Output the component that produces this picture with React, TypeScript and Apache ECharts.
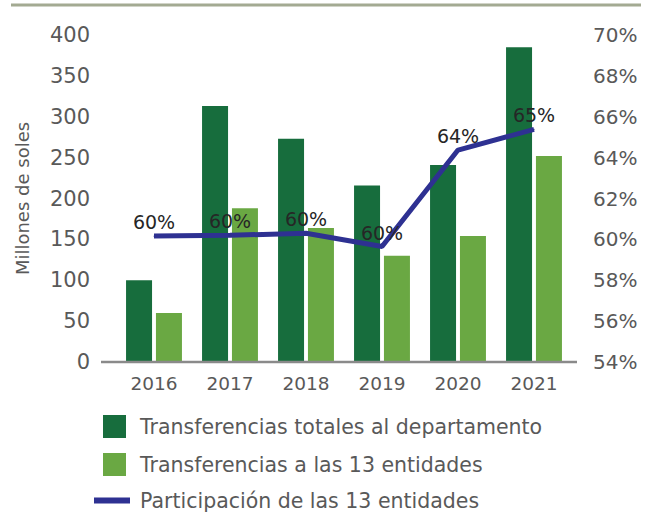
import React, { useEffect, useRef } from "react";
import * as echarts from "echarts";

const years = ["2016", "2017", "2018", "2019", "2020", "2021"];
const totalDepartamento = [100, 313, 273, 216, 241, 385];
const trece = [60, 188, 164, 130, 154, 252];
const participacion = [60.16, 60.2, 60.3, 59.65, 64.37, 65.38];
const leftTicks = [0, 400, 50];
const rightTicks = [54, 70, 2];

const names = [
  "Transferencias totales al departamento",
  "Transferencias a las 13 entidades",
  "Participación de las 13 entidades",
];

const FONT = "'DejaVu Sans', 'Noto Sans', sans-serif";
const GRAY = "#595959";

export default function App() {
  const ref = useRef<HTMLDivElement>(null);
  useEffect(() => {
    if (!ref.current) return;
    const chart = echarts.init(ref.current, null, { renderer: "svg" });
    chart.setOption({
      animation: false,
      textStyle: { fontFamily: FONT },
      grid: { left: 116, right: 81, top: 35, bottom: 154 },
      graphic: [
        {
          type: "line",
          shape: { x1: 11, y1: 5, x2: 641, y2: 5 },
          style: { stroke: "#a3aa92", lineWidth: 3 },
        },
        {
          type: "line",
          shape: { x1: 101, y1: 362, x2: 577, y2: 362 },
          style: { stroke: "#8a8a8a", lineWidth: 2.5 },
          z: 10,
        },
      ],
      legend: [
        {
          orient: "vertical",
          left: 103,
          top: 415,
          padding: 0,
          itemWidth: 23,
          itemHeight: 23,
          itemGap: 15,
          icon: "rect",
          data: [names[0], names[1]],
          textStyle: { fontSize: 20.5, color: GRAY, fontFamily: FONT, padding: [0, 0, 0, 9] },
        },
        {
          orient: "vertical",
          left: 94,
          top: 490,
          padding: 0,
          itemWidth: 36,
          itemHeight: 6,
          icon: "rect",
          data: [names[2]],
          textStyle: { fontSize: 20.5, color: GRAY, fontFamily: FONT, padding: [0, 0, 0, 5] },
        },
      ],
      xAxis: {
        type: "category",
        data: years,
        axisLine: { show: false },
        axisTick: { show: false },
        axisLabel: { color: GRAY, fontSize: 18.5, margin: 12, fontFamily: FONT },
      },
      yAxis: [
        {
          type: "value",
          min: leftTicks[0],
          max: leftTicks[1],
          interval: leftTicks[2],
          name: "Millones de soles",
          nameLocation: "middle",
          nameGap: 85,
          nameRotate: 90,
          nameTextStyle: { color: GRAY, fontSize: 18, fontFamily: FONT },
          axisLine: { show: false },
          axisTick: { show: false },
          splitLine: { show: false },
          axisLabel: { color: GRAY, fontSize: 21, margin: 26, fontFamily: FONT },
        },
        {
          type: "value",
          min: rightTicks[0],
          max: rightTicks[1],
          interval: rightTicks[2],
          position: "right",
          axisLine: { show: false },
          axisTick: { show: false },
          splitLine: { show: false },
          axisLabel: {
            color: GRAY,
            fontSize: 20,
            margin: 21,
            fontFamily: FONT,
            formatter: (v: number) => v + "%",
          },
        },
      ],
      series: [
        {
          name: names[0],
          type: "bar",
          data: totalDepartamento,
          barWidth: 26,
          barGap: "15%",
          itemStyle: { color: "#176d3d" },
        },
        {
          name: names[1],
          type: "bar",
          data: trece,
          barWidth: 26,
          barGap: "15%",
          itemStyle: { color: "#6aa843" },
        },
        {
          name: names[2],
          type: "line",
          yAxisIndex: 1,
          data: participacion,
          symbol: "circle",
          symbolSize: 1,
          showSymbol: true,
          lineStyle: { color: "#2e3192", width: 5 },
          itemStyle: { color: "#2e3192" },
          z: 5,
          label: {
            show: true,
            position: "top",
            distance: 4,
            color: "#262626",
            fontSize: 19,
            fontFamily: FONT,
            formatter: (p: any) => Math.round(p.value) + "%",
          },
        },
      ],
    });
    return () => chart.dispose();
  }, []);
  return <div ref={ref} style={{ width: 653, height: 516, position: "absolute", left: 0, top: 0 }} />;
}
